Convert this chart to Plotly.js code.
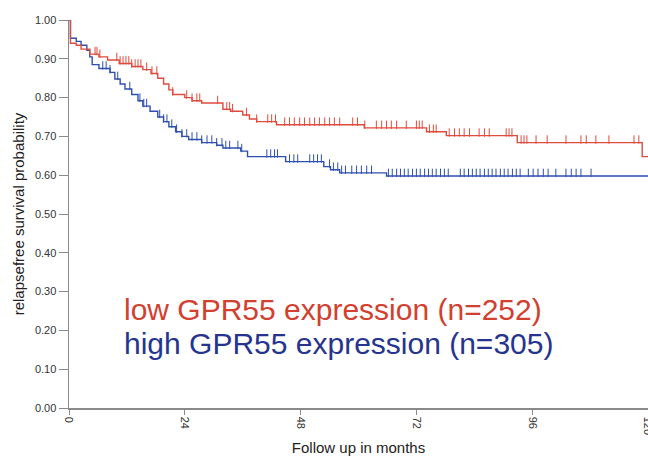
<!DOCTYPE html>
<html>
<head>
<meta charset="utf-8">
<script src="https://cdn.plot.ly/plotly-3.0.1.min.js"></script>
<style>html,body{margin:0;padding:0;background:#fff;}#chart{width:648px;height:456px;}</style>
</head>
<body>
<div id="chart"></div>
<script>
// Kaplan-Meier step data (months, survival probability)
const lowTimes = [0, 0.3, 1.5, 2.5, 4.3, 6.2, 8.0, 10.4, 13.0, 15.3, 17.0, 18.4, 19.6, 20.7, 21.5, 24.0, 25.5, 27.5, 31.9, 33.5, 36.0, 37.4, 38.9, 43.0, 61.2, 74.1, 78.2, 92.9, 118.8, 120];
const lowSurv  = [1.00, 0.940, 0.935, 0.925, 0.912, 0.905, 0.897, 0.888, 0.880, 0.872, 0.862, 0.850, 0.835, 0.820, 0.808, 0.800, 0.792, 0.786, 0.770, 0.765, 0.755, 0.745, 0.738, 0.730, 0.722, 0.712, 0.702, 0.684, 0.648, 0.648];
const highTimes = [0, 0.3, 1.5, 2.5, 3.7, 4.3, 4.8, 6.2, 8.5, 9.5, 10.6, 11.6, 13.0, 14.3, 15.3, 16.8, 18.4, 19.6, 20.7, 22.1, 23.4, 24.8, 27.5, 30.6, 31.9, 35.6, 37.0, 44.9, 52.8, 54.2, 56.1, 65.8, 120];
const highSurv  = [1.00, 0.953, 0.945, 0.935, 0.922, 0.905, 0.885, 0.875, 0.865, 0.848, 0.835, 0.822, 0.808, 0.792, 0.778, 0.765, 0.750, 0.738, 0.725, 0.712, 0.700, 0.692, 0.684, 0.677, 0.670, 0.662, 0.648, 0.635, 0.622, 0.614, 0.606, 0.598, 0.598];
// censored observations (months)
const lowCensor = [5.4, 5.8, 6.4, 9.9, 10.6, 11.2, 11.8, 12.4, 13.0, 13.7, 14.3, 14.9, 16.1, 17.2, 18.2, 21.5, 24.4, 25.5, 26.5, 27.1, 30.8, 32.7, 33.3, 33.9, 36.8, 38.9, 41.2, 42.0, 42.8, 44.7, 45.7, 46.7, 47.8, 48.8, 49.9, 50.9, 51.9, 53.0, 54.0, 55.0, 56.1, 58.8, 59.8, 61.3, 63.7, 64.8, 65.8, 66.8, 67.9, 69.9, 72.0, 72.6, 73.2, 74.7, 75.5, 76.1, 78.8, 79.9, 80.9, 81.9, 83.0, 85.0, 86.1, 87.1, 90.6, 91.2, 91.8, 93.7, 94.3, 94.9, 96.8, 99.1, 103.0, 106.1, 107.2, 109.2, 111.9, 117.1, 118.1];
const highCensor = [7.0, 7.7, 8.5, 10.1, 12.6, 14.7, 15.5, 16.1, 18.8, 19.6, 20.3, 21.3, 22.3, 23.4, 24.4, 25.5, 26.5, 27.5, 28.6, 29.6, 30.6, 31.7, 32.5, 33.3, 35.0, 35.8, 41.0, 41.8, 42.6, 43.2, 45.7, 46.6, 47.4, 49.9, 50.7, 51.5, 52.3, 54.0, 54.8, 55.7, 56.5, 57.3, 58.6, 59.6, 60.6, 61.7, 62.7, 66.2, 67.0, 67.9, 68.7, 69.5, 70.3, 71.2, 72.0, 72.8, 73.7, 74.5, 75.3, 76.1, 77.0, 77.8, 78.6, 81.1, 81.9, 82.8, 83.6, 84.4, 85.2, 86.1, 86.9, 87.7, 88.5, 89.4, 90.2, 91.0, 91.9, 92.7, 93.5, 95.2, 96.2, 97.2, 98.3, 99.3, 100.9, 103.0, 104.1, 105.1, 106.1, 108.2];
const xTicks = [0, 24, 48, 72, 96, 120];
const yTicks = [0, 0.1, 0.2, 0.3, 0.4, 0.5, 0.6, 0.7, 0.8, 0.9, 1.0];
const lowLabel = 'low GPR55 expression (n=252)';
const highLabel = 'high GPR55 expression (n=305)';

const redLine = '#df4b3e', blueLine = '#2f4fae';
const redText = '#d2402f', blueText = '#26348f';

function stepAt(times, surv, t) {
  let v = surv[0];
  for (let i = 0; i < times.length; i++) { if (times[i] <= t) v = surv[i]; }
  return v;
}
const tickLift = 0.008;
function censorY(times, surv, cens) { return cens.map(t => stepAt(times, surv, t) + tickLift); }

const traces = [
  {x: highTimes, y: highSurv, type: 'scatter', mode: 'lines', line: {shape: 'hv', color: blueLine, width: 1.4}, hoverinfo: 'skip', showlegend: false},
  {x: highCensor, y: censorY(highTimes, highSurv, highCensor), type: 'scatter', mode: 'markers',
   marker: {symbol: 'line-ns', size: 6, line: {color: blueLine, width: 1}}, hoverinfo: 'skip', showlegend: false},
  {x: lowTimes, y: lowSurv, type: 'scatter', mode: 'lines', line: {shape: 'hv', color: redLine, width: 1.4}, hoverinfo: 'skip', showlegend: false},
  {x: lowCensor, y: censorY(lowTimes, lowSurv, lowCensor), type: 'scatter', mode: 'markers',
   marker: {symbol: 'line-ns', size: 6, line: {color: redLine, width: 1}}, hoverinfo: 'skip', showlegend: false}
];

const font = 'Liberation Sans, Arial, Helvetica, sans-serif';
const layout = {
  width: 648, height: 456,
  margin: {l: 69, r: 0, t: 20, b: 48, pad: 0},
  paper_bgcolor: '#fff', plot_bgcolor: '#fff',
  font: {family: font, color: '#333', size: 11},
  showlegend: false,
  xaxis: {
    range: [0, 120], tickvals: xTicks, ticktext: xTicks.map(String), tickangle: 90, ticklabeloverflow: 'allow',
    showgrid: false, zeroline: false, showline: true, linecolor: '#8a8a8a', linewidth: 1.5,
    ticks: 'outside', ticklen: 5, tickcolor: '#8a8a8a', tickfont: {family: font, size: 11, color: '#333'},
    title: {text: 'Follow up in months', font: {family: font, size: 15, color: '#222'}, standoff: 14}
  },
  yaxis: {
    range: [0, 1], tickvals: yTicks, ticktext: yTicks.map(v => v.toFixed(2)),
    showgrid: false, zeroline: false, showline: true, linecolor: '#8a8a8a', linewidth: 1.5,
    ticks: 'outside', ticklen: 9, tickcolor: '#8a8a8a', tickfont: {family: font, size: 11, color: '#333'},
    title: {text: 'relapsefree survival probability', font: {family: font, size: 15, color: '#222'}, standoff: 6}
  },
  annotations: [
    {xref: 'paper', yref: 'paper', x: 0.0915, y: 0.255, xanchor: 'left', yanchor: 'middle', showarrow: false,
     text: lowLabel, font: {family: font, size: 30, color: redText}},
    {xref: 'paper', yref: 'paper', x: 0.0915, y: 0.165, xanchor: 'left', yanchor: 'middle', showarrow: false,
     text: highLabel, font: {family: font, size: 30, color: blueText}}
  ]
};

Plotly.newPlot('chart', traces, layout, {displayModeBar: false, staticPlot: true});
</script>
</body>
</html>
